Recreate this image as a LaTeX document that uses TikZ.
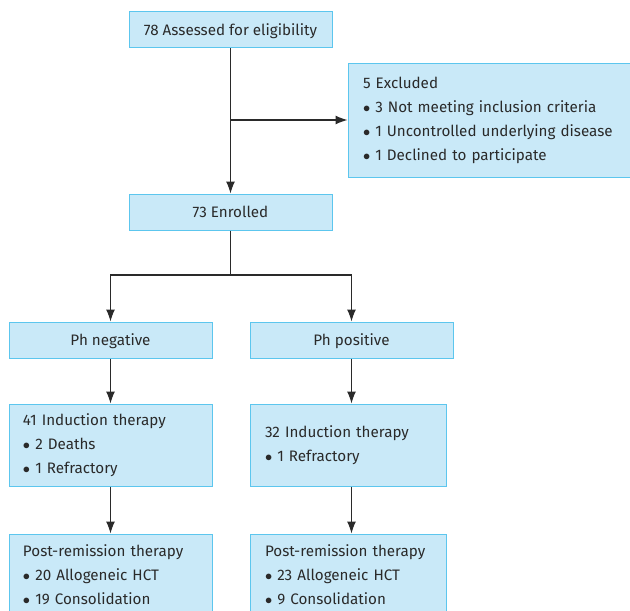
\documentclass[tikz,border=0pt]{standalone}
\usepackage{fontspec}
\setmainfont{Fira Sans}
\usetikzlibrary{arrows.meta}
\definecolor{boxfill}{HTML}{C9E9F8}
\definecolor{boxline}{HTML}{5CC6EE}
\definecolor{txt}{HTML}{2A2A2A}
\newcommand{\bul}{$\bullet$\ }
\newcommand{\boxfont}{\fontsize{15.2}{24}\selectfont\hyphenpenalty=10000\relax}

\begin{document}
\begin{tikzpicture}[x=1pt, y=-1pt, >={Latex[length=12pt,width=9pt]}]
    \tikzstyle{box}=[draw=boxline, fill=boxfill, text=txt, line width=1pt, font=\boxfont, inner sep=0pt]
    \tikzstyle{wide}=[box, minimum width=203pt, minimum height=36pt, text depth=0pt]
    \tikzstyle{list}=[box, align=left, minimum height=82pt]
    \tikzstyle{line}=[line width=1.2pt, draw=txt]
    \clip (0,0) rectangle (630,611);

    % draw boxes

    \node [wide] (assess) at (230.5,29.5) {78 Assessed for eligibility};
    \node [list, minimum height=114pt, text width=252pt, inner xsep=15pt] (excl) at (489,120)
        {5 Excluded\\\bul 3 Not meeting inclusion criteria\\\bul 1 Uncontrolled underlying disease\\\bul 1 Declined to participate};
    \node [wide] (enroll) at (230.5,212) {73 Enrolled};

    \foreach \s/\x/\t in {neg/110.5/negative, pos/351.5/positive}
    \node [wide] (ph\s) at (\x,340) {Ph \t};

    \node [list, text width=175pt, inner xsep=14pt] (indneg) at (110.5,445)
        {41 Induction therapy\\\bul 2 Deaths\\\bul 1 Refractory};
    \node [list, text width=166pt, inner xsep=15pt] (indpos) at (348,445)
        {32 Induction therapy\\\bul 1 Refractory};

    \node [list, text width=175pt, inner xsep=14pt] (postneg) at (110.5,575)
        {Post-remission therapy\\\bul 20 Allogeneic HCT\\\bul 19 Consolidation};
    \node [list, text width=166pt, inner xsep=15pt] (postpos) at (348,575)
        {Post-remission therapy\\\bul 23 Allogeneic HCT\\\bul 9 Consolidation};

    % draw lines

    \coordinate (split) at (230.5,275);
    \draw [line, ->] (assess) -- (enroll);
    \draw [line, ->] (assess.south |- excl.west) -- (excl.west);
    \draw [line] (enroll) -- (split);

    \foreach \s in {neg,pos}
    \draw [line, ->] (split) -| (ph\s);

    \draw [line, ->] (phneg) -- (indneg);
    \draw [line, ->] (indneg) -- (postneg);
    \draw [line, ->] (phpos.south) -- (phpos.south |- indpos.north);
    \draw [line, ->] (phpos.south |- indpos.south) -- (phpos.south |- postpos.north);

\end{tikzpicture}
\end{document}
